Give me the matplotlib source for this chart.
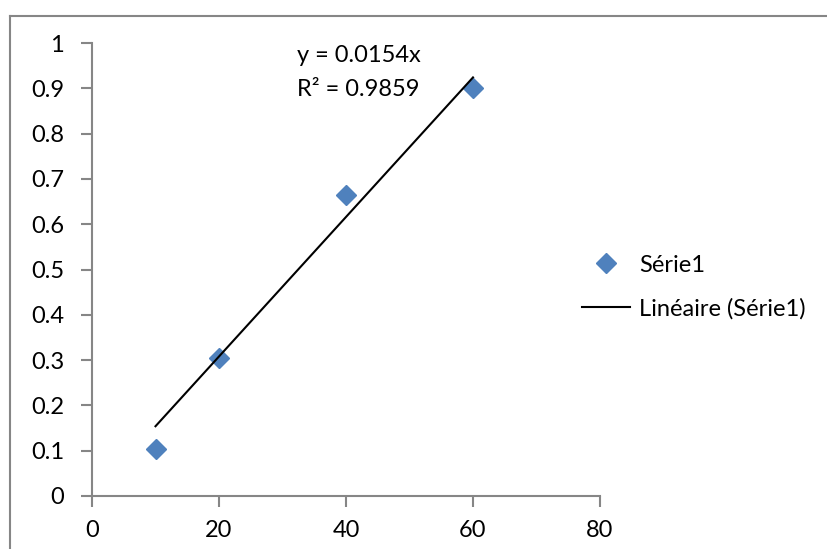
import matplotlib
matplotlib.use("Agg")
import matplotlib.pyplot as plt
from matplotlib.lines import Line2D
import numpy as np

plt.rcParams['font.family'] = ['Lato', 'DejaVu Sans']

x_vals = [10, 20, 40, 60]
y_vals = [0.104, 0.305, 0.665, 0.9]
slope = 0.0154
r2 = 0.9859
x_ticks = [0, 20, 40, 60, 80]
y_ticks = [0, 0.1, 0.2, 0.3, 0.4, 0.5, 0.6, 0.7, 0.8, 0.9, 1]
y_tick_labels = ['0', '0.1', '0.2', '0.3', '0.4', '0.5', '0.6', '0.7', '0.8', '0.9', '1']

W, H = 827, 549
FS = 17
fig = plt.figure(figsize=(W / 100, H / 100), dpi=100)
ax = fig.add_axes([92 / W, 1 - 496 / H, (600 - 92) / W, (496 - 43) / H])

axis_color = '#868686'
marker_color = '#4F81BD'

ax.plot(x_vals, y_vals, linestyle='none', marker='D', markersize=10,
        color=marker_color, zorder=2)
xt = np.array([min(x_vals), max(x_vals)])
ax.plot(xt, slope * xt, color='black', lw=1.5, zorder=3)

ax.set_xlim(0, 80)
ax.set_ylim(0, 1)
ax.set_xticks(x_ticks)
ax.set_xticklabels([str(t) for t in x_ticks])
ax.set_yticks(y_ticks)
ax.set_yticklabels(y_tick_labels)
for s in ['top', 'right']:
    ax.spines[s].set_visible(False)
for s in ['left', 'bottom']:
    ax.spines[s].set_color(axis_color)
    ax.spines[s].set_linewidth(1.5)
ax.tick_params(axis='both', colors=axis_color, width=1.5, length=8,
               labelcolor='black', labelsize=FS, direction='out')
ax.tick_params(axis='x', pad=9)
ax.tick_params(axis='y', pad=12)

ax.text(297 / W, 1 - 56 / H, 'y = 0.0154x', transform=fig.transFigure,
        fontsize=FS, va='center', ha='left')
ax.text(297 / W, 1 - 89 / H, 'R² = 0.9859', transform=fig.transFigure,
        fontsize=FS, va='center', ha='left')

handles = [Line2D([], [], linestyle='none', marker='D', markersize=10, color=marker_color),
           Line2D([], [], color='black', lw=1.5)]
fig.legend(handles, ['Série1', 'Linéaire (Série1)'], loc='center left',
           bbox_to_anchor=(582 / W, 1 - 287 / H), frameon=False, fontsize=FS,
           handlelength=2.05, handletextpad=0.38, labelspacing=0.95, borderpad=0,
           borderaxespad=0)

# outer chart border
fig.add_artist(Line2D([9.5 / W, 9.5 / W], [0, 1 - 15.5 / H], color=axis_color, lw=1.5,
                      transform=fig.transFigure))
fig.add_artist(Line2D([9.5 / W, 1], [1 - 15.5 / H, 1 - 15.5 / H], color=axis_color, lw=1.5,
                      transform=fig.transFigure))

fig.savefig('out.png', dpi=100)
